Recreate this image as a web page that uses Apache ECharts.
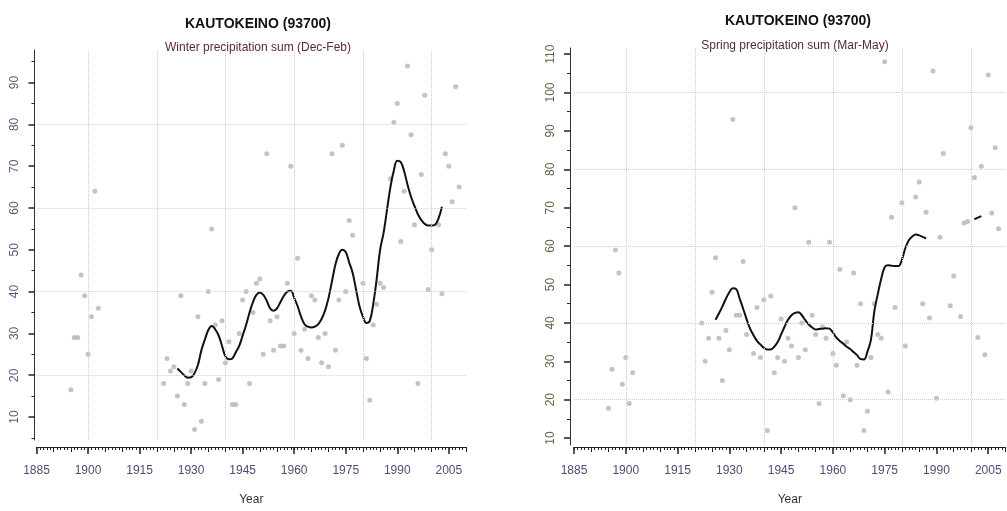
<!DOCTYPE html>
<html>
<head>
<meta charset="utf-8">
<title>Kautokeino precipitation</title>
<script src="https://cdn.jsdelivr.net/npm/echarts@6/dist/echarts.min.js"></script>
<style>
  html, body { margin: 0; padding: 0; background: #fff; }
  #chart { width: 1007px; height: 511px; }
</style>
</head>
<body>
<div id="chart"></div>
<script>
// winter (Dec-Feb) yearly sums
const winterYears = [1895,1896,1897,1898,1899,1900,1901,1902,1903,
  1922,1923,1924,1925,1926,1927,1928,1929,1930,1931,1932,1933,1934,1935,1936,1937,1938,1939,1940,
  1941,1942,1943,1944,1945,1946,1947,1948,1949,1950,1951,1952,1953,1954,1955,1956,1957,1958,1959,1960,
  1961,1962,1963,1964,1965,1966,1967,1968,1969,1970,1971,1972,1973,1974,1975,1976,1977,1980,
  1981,1982,1983,1984,1985,1986,1988,1989,1990,1991,1992,1993,1994,1995,1996,1997,1998,1999,2000,
  2002,2003,2004,2005,2006,2007,2008];
const winterValues = [16.5,29,29,44,39,25,34,64,36,
  18,24,21,22,15,39,13,18,21,7,34,9,18,40,55,32,19,33,23,
  28,13,13,30,38,40,18,35,42,43,25,73,33,26,34,27,27,42,70,30,
  48,26,31,24,39,38,29,23,30,22,73,26,38,75,40,57,53.5,42,
  24,14,32,37,42,41,67,80.5,85,52,64,94,77.5,56,18,68,87,40.5,50,
  56,39.5,73,70,61.5,89,65];

// winter smoothed curve
const winterSmoothYears = [1926,1927,1928,1929,1930,1931,1932,1933,1934,1935,1936,1937,1938,1939,1940,
  1941,1942,1943,1944,1945,1946,1947,1948,1949,1950,1951,1952,1953,1954,1955,1956,1957,1958,1959,1960,
  1961,1962,1963,1964,1965,1966,1967,1968,1969,1970,1971,1972,1973,1974,1975,1976,1977,1978,1979,1980,
  1981,1982,1983,1984,1985,1986,1987,1988,1989,1990,1991,1992,1993,1994,1995,1996,1997,1998,1999,2000,
  2001,2002,2003];
const winterSmooth = [21.6,20.8,20,19.4,19.5,20.5,22.5,26,28.5,30.8,31.8,31,29.5,27,24.5,
  23.8,24,25.5,27,29.5,32,35,37.5,39.2,39.8,39.2,37.8,36,35.4,36,37.5,39,40,40.2,38.5,
  36.5,34,32.2,31.6,31.4,31.6,32.2,33.5,35.5,38.5,42.5,46.5,49,50,49.5,47,44.5,40.5,36.5,34,
  32.5,33,37,43,50,54,59.5,65,69,71.3,71,68.8,65.5,62.7,60.5,58.5,57.1,56.2,55.8,55.8,
  56,57.5,60.3];

// spring (Mar-May) yearly sums
const springYears = [1895,1896,1897,1898,1899,1900,1901,1902,
  1922,1923,1924,1925,1926,1927,1928,1929,1930,1931,1932,1933,1934,1935,1937,1938,1939,1940,
  1941,1942,1943,1944,1945,1946,1947,1948,1949,1950,1951,1952,1953,1954,1955,1956,1957,1958,1959,1960,
  1961,1962,1963,1964,1965,1966,1967,1968,1969,1970,1971,1972,1973,1974,1975,1976,1977,1978,1980,
  1981,1984,1985,1986,1987,1988,1989,1990,1991,1992,1994,1995,1997,1998,1999,2000,
  2001,2002,2003,2004,2005,2006,2007,2008];
const springValues = [17.8,27.9,59,53,24,31,19,27,
  40,30,36,48,57,36,25,38,33,93,42,42,56,37,32,44,31,46,
  12,47,27,31,41,30,36,34,70,31,40,33,61,42,37,19,39,36,61,32,
  29,54,21,35,20,53,29,45,12,17,31,45,37,36,108,22,67.5,44,71.3,
  34,72.8,76.7,45,68.8,41.3,105.6,20.4,62.3,84.1,44.5,52.2,41.7,66,66.4,90.8,
  77.9,36.2,80.8,31.7,104.6,68.6,85.6,64.5];

// spring smoothed curve (null = gap)
const springSmoothYears = [1926,1927,1928,1929,1930,1931,1932,1933,1934,1935,1936,1937,1938,1939,1940,
  1941,1942,1943,1944,1945,1946,1947,1948,1949,1950,1951,1952,1953,1954,1955,1956,1957,1958,1959,1960,
  1961,1962,1963,1964,1965,1966,1967,1968,1969,1970,1971,1972,1973,1974,1975,1976,1977,1978,1979,1980,
  1981,1982,1983,1984,1985,1986,1987,1994,2001,2002,2003];
const springSmooth = [40.8,42.5,44.3,46.3,48,49,48.8,46.3,43.7,41,38.5,36.8,35.3,34.4,33.5,
  33.1,33.1,33.8,35,37,39,40.8,42,42.6,42.8,42,40.7,39.6,38.8,38.3,38.4,38.5,38.6,38.5,37.5,
  36.2,35.3,34.6,33.8,33.2,32.4,31.6,30.6,30.5,32.5,35.5,43,47.5,51.5,54.5,55,54.9,54.8,54.8,56.5,
  59.5,61.5,62.5,63,62.8,62.4,62,null,67,67.4,67.8];

// tick labels and grid lines
const yearLabels = [1885,1900,1915,1930,1945,1960,1975,1990,2005];
const fiveYears = [1890,1895,1905,1910,1920,1925,1935,1940,1950,1955,1965,1970,1980,1985,1995,2000,2010];
const allYears = [];
for (let y = 1885; y <= 2010; y++) allYears.push(y);
const gridYears = [1900,1920,1940,1960,1980,2000];
const winterTicks = [10,20,30,40,50,60,70,80,90];
const winterMinor = [5,15,25,35,45,55,65,75,85,95];
const winterGrid = [20,40,60,80];
const springTicks = [10,20,30,40,50,60,70,80,90,100,110];
const springMinor = [15,25,35,45,55,65,75,85,95,105];
const springGrid = [20,40,60,80,100];

const pairs = (xs, ys) => xs.map((x, i) => [x, ys[i] == null ? '-' : ys[i]]);
const FONT = 'Liberation Sans, Arial, sans-serif';

function gridMarks(years, vals) {
  return {
    silent: true,
    symbol: 'none',
    label: { show: false },
    lineStyle: { color: '#cfcfcf', type: 'dotted', width: 1 },
    data: years.map(function (x) { return { xAxis: x }; })
      .concat(vals.map(function (y) { return { yAxis: y }; }))
  };
}

// overlay axis that only draws ticks at the given values
function tickAxis(gi, min, max, pos, off, values, len, width) {
  return {
    type: 'value', gridIndex: gi, min: min, max: max, position: pos, offset: off,
    axisLine: { show: false },
    axisTick: { show: true, customValues: values, length: len, lineStyle: { color: '#222', width: width } },
    axisLabel: { show: false },
    splitLine: { show: false }
  };
}

function xAxes(gi, off) {
  return [{
    type: 'value', gridIndex: gi, min: 1885, max: 2010, position: 'bottom', offset: off,
    name: 'Year', nameLocation: 'middle', nameGap: 47,
    nameTextStyle: { fontFamily: FONT, fontSize: 12, color: '#333' },
    axisLine: { show: true, lineStyle: { color: '#222', width: 1 } },
    axisTick: { show: true, customValues: yearLabels, length: 7, lineStyle: { color: '#222', width: 1.5 } },
    axisLabel: {
      customValues: yearLabels, margin: 18, fontFamily: FONT, fontSize: 12, color: '#4d4f75',
      formatter: function (v) { return String(v); }
    },
    splitLine: { show: false }
  },
  tickAxis(gi, 1885, 2010, 'bottom', off, fiveYears, 5, 1),
  tickAxis(gi, 1885, 2010, 'bottom', off, allYears, 3, 1)];
}

function yAxes(gi, min, max, ticks, minor, color, off, margin) {
  return [{
    type: 'value', gridIndex: gi, min: min, max: max, position: 'left', offset: off,
    axisLine: { show: true, lineStyle: { color: '#333', width: 1 } },
    axisTick: { show: true, customValues: ticks, length: 6, lineStyle: { color: '#222', width: 1.5 } },
    axisLabel: { customValues: ticks, rotate: 90, margin: margin, fontFamily: FONT, fontSize: 12, color: color },
    splitLine: { show: false }
  },
  tickAxis(gi, min, max, 'left', off, minor, 3, 1)];
}

const titleStyle = { fontFamily: FONT, fontSize: 14, fontWeight: 'bold', color: '#111' };
const subStyle = { fontFamily: FONT, fontSize: 12, fontWeight: 'normal', color: '#5a2838' };

let myChart = echarts.init(document.getElementById('chart'));
myChart.setOption({
  backgroundColor: '#fff',
  animation: false,
  title: [
    { text: 'KAUTOKEINO (93700)', left: 253, top: 12, textAlign: 'center', textStyle: titleStyle },
    { text: 'Winter precipitation sum (Dec-Feb)', left: 253, top: 37, textAlign: 'center', textStyle: subStyle },
    { text: 'KAUTOKEINO (93700)', left: 793, top: 9, textAlign: 'center', textStyle: titleStyle },
    { text: 'Spring precipitation sum (Mar-May)', left: 790, top: 35, textAlign: 'center', textStyle: subStyle }
  ],
  grid: [
    { left: 36.5, top: 50, width: 429.5, height: 390 },
    { left: 574, top: 48, width: 431.5, height: 399 }
  ],
  // axes 0-2 left chart, 3-5 right chart
  xAxis: xAxes(0, 7).concat(xAxes(1, 2)),
  // axes 0-1 left chart, 2-3 right chart
  yAxis: yAxes(0, 4.5, 97.8, winterTicks, winterMinor, '#56607a', 2, 14)
    .concat(yAxes(1, 8.2, 111.6, springTicks, springMinor, '#6b6048', 4, 13)),
  series: [
    {
      name: 'winter', type: 'scatter', xAxisIndex: 0, yAxisIndex: 0,
      symbolSize: 5, itemStyle: { color: '#b4b4b4' },
      data: pairs(winterYears, winterValues),
      markLine: gridMarks(gridYears, winterGrid)
    },
    {
      name: 'winter smooth', type: 'line', xAxisIndex: 0, yAxisIndex: 0,
      smooth: 0.4, showSymbol: false, symbol: 'none',
      lineStyle: { color: '#111', width: 2 },
      data: pairs(winterSmoothYears, winterSmooth)
    },
    {
      name: 'spring', type: 'scatter', xAxisIndex: 3, yAxisIndex: 2,
      symbolSize: 5, itemStyle: { color: '#b4b4b4' },
      data: pairs(springYears, springValues),
      markLine: gridMarks(gridYears, springGrid)
    },
    {
      name: 'spring smooth', type: 'line', xAxisIndex: 3, yAxisIndex: 2,
      smooth: 0.4, showSymbol: false, symbol: 'none', connectNulls: false,
      lineStyle: { color: '#111', width: 2 },
      data: pairs(springSmoothYears, springSmooth)
    }
  ]
});
</script>
</body>
</html>
